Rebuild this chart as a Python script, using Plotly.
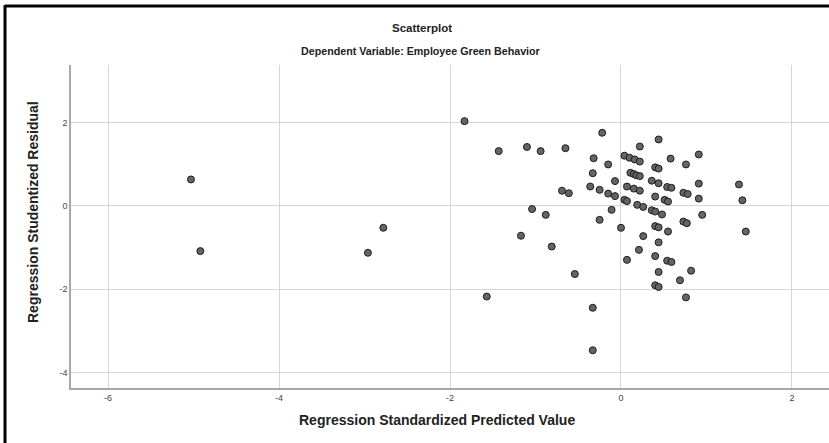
import plotly.graph_objects as go

predicted = [-5.03, -4.92, -2.78, -2.96, -1.83, -1.43, -1.10, -0.94, -1.04, -0.88,
             -1.17, -0.81, -0.54, -1.57, -0.33, -0.33, -0.22, -0.65, 0.44, 0.22,
             -0.32, -0.15, 0.04, 0.10, 0.16, 0.22, 0.58, 0.76, 0.40, 0.44,
             -0.33, 0.11, 0.15, 0.18, 0.22, -0.07, 0.36, 0.44, 0.54, 0.59,
             0.73, 0.78, -0.36, -0.25, -0.69, -0.61, -0.15, -0.07, 0.07, 0.15,
             0.22, 0.40, 0.51, 0.55, 0.04, 0.07, 0.19, 0.26, 0.36, 0.40,
             0.48, -0.11, -0.25, 0.00, 0.40, 0.44, 0.73, 0.77, 0.55, 0.26,
             0.44, 0.21, 0.07, 0.40, 0.54, 0.59, 0.44, 0.82, 0.69, 0.40,
             0.44, 0.76, 0.91, 0.91, 1.38, 0.91, 1.42, 0.95, 1.46]
residual = [0.63, -1.09, -0.53, -1.13, 2.03, 1.31, 1.41, 1.31, -0.08, -0.22,
            -0.72, -0.98, -1.64, -2.18, -2.45, -3.47, 1.75, 1.38, 1.59, 1.42,
            1.14, 0.99, 1.20, 1.15, 1.11, 1.06, 1.13, 0.99, 0.92, 0.89,
            0.78, 0.79, 0.76, 0.73, 0.71, 0.59, 0.60, 0.54, 0.45, 0.43,
            0.31, 0.28, 0.46, 0.38, 0.36, 0.30, 0.29, 0.23, 0.46, 0.41,
            0.36, 0.22, 0.14, 0.10, 0.14, 0.11, 0.02, -0.03, -0.11, -0.14,
            -0.21, -0.10, -0.34, -0.53, -0.49, -0.52, -0.38, -0.42, -0.62, -0.73,
            -0.88, -1.06, -1.30, -1.21, -1.32, -1.35, -1.59, -1.56, -1.79, -1.91,
            -1.95, -2.20, 1.23, 0.53, 0.51, 0.17, 0.13, -0.22, -0.62]

x_ticks = [-6, -4, -2, 0, 2]
y_ticks = [-4, -2, 0, 2]

title_text = "Scatterplot"
subtitle_text = "Dependent Variable: Employee Green Behavior"
x_title = "Regression Standardized Predicted Value"
y_title = "Regression Studentized Residual"

W, H = 829, 443
L, T, R, B = 71, 65, 0, 55
pw, ph = W - L - R, H - T - B

def px(x):
    return (x - L) / pw

def py(y):
    return (H - B - y) / ph

FONT = "Liberation Sans, Arial, sans-serif"

fig = go.Figure(go.Scatter(
    x=predicted, y=residual, mode="markers",
    marker=dict(size=7, color="#646464", line=dict(color="#1e1e1e", width=1)),
    showlegend=False, hoverinfo="x+y"))

fig.update_layout(
    width=W, height=H,
    margin=dict(l=L, r=R, t=T, b=B),
    paper_bgcolor="white", plot_bgcolor="white",
    font=dict(family=FONT, color="#222"),
    xaxis=dict(range=[-6.433, 2.433], tickvals=x_ticks, ticktext=[str(v) for v in x_ticks],
               showgrid=True, gridcolor="#d6d6d6", gridwidth=1.3,
               showline=True, linecolor="#a8a8a8", linewidth=1.5,
               zeroline=False, ticks="", tickfont=dict(size=9, color="#444"),
               fixedrange=True),
    yaxis=dict(range=[-4.375, 3.377], tickvals=y_ticks, ticktext=[str(v) for v in y_ticks],
               showgrid=True, gridcolor="#d6d6d6", gridwidth=1.3,
               showline=True, linecolor="#a8a8a8", linewidth=1.5,
               zeroline=False, ticks="", tickfont=dict(size=9, color="#444"),
               fixedrange=True),
)

annotations = [
    dict(text="<b>" + title_text + "</b>", x=px(422), y=py(28), font=dict(size=11.5, color="#222")),
    dict(text="<b>" + subtitle_text + "</b>", x=px(420), y=py(51), font=dict(size=10.7, color="#222")),
    dict(text="<b>" + x_title + "</b>", x=px(437), y=py(420), font=dict(size=14, color="#222")),
    dict(text="<b>" + y_title + "</b>", x=px(33), y=py(212), textangle=-90, font=dict(size=14, color="#222")),
]
for a in annotations:
    a.update(xref="paper", yref="paper", showarrow=False, xanchor="center", yanchor="middle")
fig.update_layout(annotations=annotations)

fig.add_shape(type="line", xref="paper", yref="paper", x0=px(5), x1=px(5), y0=py(5), y1=py(450),
              line=dict(color="black", width=3))
fig.add_shape(type="line", xref="paper", yref="paper", x0=px(5), x1=px(840), y0=py(6), y1=py(6),
              line=dict(color="black", width=3))

fig.write_html("out.html", config={"displayModeBar": False},
               post_script="document.body.style.margin='0';document.body.style.overflow='hidden';")
